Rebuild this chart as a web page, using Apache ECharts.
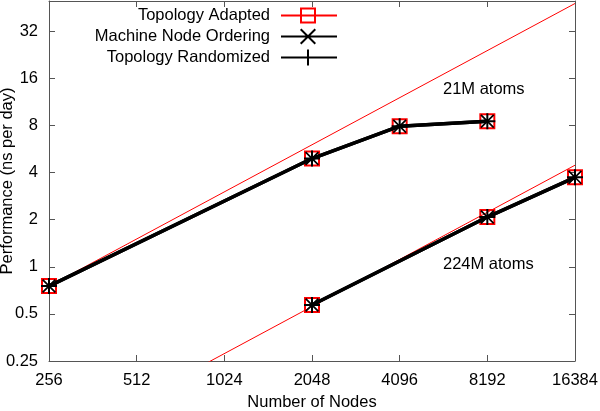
<!DOCTYPE html>
<html>
<head>
<meta charset="utf-8">
<script src="https://cdn.jsdelivr.net/npm/echarts@6/dist/echarts.min.js"></script>
<style>html,body{margin:0;padding:0;background:#fff}#c{width:600px;height:411px}</style>
</head>
<body>
<div id="c"></div>
<script>
// ---- data ----
var nodes21 = [256, 2048, 4096, 8192];
var adapted21 = [0.753, 4.92, 7.92, 8.52];
var machine21 = [0.753, 4.92, 7.92, 8.52];
var random21 = [0.753, 4.92, 7.92, 8.52];
var nodes224 = [2048, 8192, 16384];
var adapted224 = [0.57, 2.08, 3.73];
var machine224 = [0.57, 2.08, 3.73];
var random224 = [0.57, 2.08, 3.73];
var idealNodes = [256, 16384];
var ideal21 = [0.753, 48.2];
var ideal224 = [0.0697, 4.46];
var xTicks = [256, 512, 1024, 2048, 4096, 8192, 16384];
var yTicks = [0.25, 0.5, 1, 2, 4, 8, 16, 32];
var seriesNames = ['Topology Adapted', 'Machine Node Ordering', 'Topology Randomized'];
var annotations = ['21M atoms', '224M atoms'];

function pairs(xs, ys) { return xs.map(function (x, i) { return [x, ys[i]]; }); }

var FONT = '"Liberation Sans", Arial, Helvetica, sans-serif';
var FS = 16.5;
var frame = '#555';

var squareSym = 'path://M0 0H16V16H0Z M2 2V14H14V2Z';
var xSym = 'path://M0 1.4L1.4 0L16 14.6L14.6 16Z M14.6 0L16 1.4L1.4 16L0 14.6Z';
var plusSym = 'path://M7 0H9V16H7Z M0 7H16V9H0Z';

var iconSquare = 'path://M0 7H56V9H0Z M19 0H35V16H19Z M21 2V14H33V2Z';
var iconX = 'path://M0 7H56V9H0Z M19 1.4L20.4 0L35 14.6L33.6 16Z M33.6 0L35 1.4L20.4 16L19 14.6Z';
var iconPlus = 'path://M0 7H56V9H0Z M26 0H28V16H26Z';

function isTick(list, v) {
  for (var i = 0; i < list.length; i++) if (Math.abs(list[i] - v) / list[i] < 1e-6) return true;
  return false;
}

var chart = echarts.init(document.getElementById('c'), null, {renderer: 'canvas'});

function dataSeries(name, xs, ys, color, width, sym, symSize, z) {
  return {
    name: name, type: 'line', data: pairs(xs, ys), xAxisIndex: 0, yAxisIndex: 0,
    symbol: sym, symbolSize: symSize, showSymbol: true, showAllSymbol: true,
    lineStyle: {color: color, width: width},
    itemStyle: {color: color, borderWidth: 0},
    animation: false, z: z, silent: true
  };
}

var option = {
  animation: false,
  textStyle: {fontFamily: FONT},
  grid: {left: 49, right: 25, top: 1, bottom: 50, containLabel: false, outerBoundsMode: 'none'},
  legend: {
    orient: 'vertical', align: 'right', right: 258, top: 2,
    itemWidth: 56, itemHeight: 16, itemGap: 4,
    textStyle: {fontFamily: FONT, fontSize: FS, color: '#000', padding: [0, 6, 0, 0]},
    data: [
      {name: seriesNames[0], icon: iconSquare, itemStyle: {color: '#ff0000', borderWidth: 0}},
      {name: seriesNames[1], icon: iconX, itemStyle: {color: '#000', borderWidth: 0}},
      {name: seriesNames[2], icon: iconPlus, itemStyle: {color: '#000', borderWidth: 0}}
    ],
    selectedMode: false
  },
  xAxis: [{
    type: 'log', logBase: 2, min: 256, max: 16384, interval: 1,
    position: 'bottom',
    name: 'Number of Nodes', nameLocation: 'middle', nameGap: 33, nameMoveOverlap: false,
    nameTextStyle: {fontFamily: FONT, fontSize: FS, color: '#000'},
    axisLine: {show: true, lineStyle: {color: frame, width: 1}},
    axisTick: {show: true, inside: true, length: 6, lineStyle: {color: frame}},
    axisLabel: {fontFamily: FONT, fontSize: FS, color: '#000', margin: 11, hideOverlap: false,
      formatter: function (v) { return isTick(xTicks, v) ? String(Math.round(v)) : ''; }},
    splitLine: {show: false}
  }, {
    type: 'log', logBase: 2, min: 256, max: 16384, interval: 1,
    position: 'top',
    axisLine: {show: true, lineStyle: {color: frame, width: 1}},
    axisTick: {show: true, inside: true, length: 6, lineStyle: {color: frame}},
    axisLabel: {show: false},
    splitLine: {show: false}
  }],
  yAxis: [{
    type: 'log', logBase: 2, min: 0.25, max: 50, interval: 1,
    position: 'left',
    name: 'Performance (ns per day)', nameLocation: 'middle', nameGap: 33, nameMoveOverlap: false,
    nameTextStyle: {fontFamily: FONT, fontSize: FS, color: '#000'},
    axisLine: {show: true, lineStyle: {color: frame, width: 1}},
    axisTick: {show: true, inside: true, length: 6, lineStyle: {color: frame}},
    axisLabel: {fontFamily: FONT, fontSize: FS, color: '#000', margin: 11, showMaxLabel: false, hideOverlap: false,
      formatter: function (v) { return isTick(yTicks, v) ? String(Math.round(v * 100) / 100) : ''; }},
    splitLine: {show: false}
  }, {
    type: 'log', logBase: 2, min: 0.25, max: 50, interval: 1,
    position: 'right',
    axisLine: {show: true, lineStyle: {color: frame, width: 1}},
    axisTick: {show: true, inside: true, length: 6, lineStyle: {color: frame}},
    axisLabel: {show: false},
    splitLine: {show: false}
  }],
  series: [
    {name: 'ideal21', type: 'line', data: pairs(idealNodes, ideal21), symbol: 'none',
      lineStyle: {color: '#ff0000', width: 1}, clip: true, z: 1, silent: true},
    {name: 'ideal224', type: 'line', data: pairs(idealNodes, ideal224), symbol: 'none',
      lineStyle: {color: '#ff0000', width: 1}, clip: true, z: 1, silent: true},
    dataSeries(seriesNames[0], nodes21, adapted21, '#ff0000', 2, squareSym, 16, 2),
    dataSeries(seriesNames[0], nodes224, adapted224, '#ff0000', 2, squareSym, 16, 2),
    dataSeries(seriesNames[1], nodes21, machine21, '#000', 3.5, xSym, 14, 3),
    dataSeries(seriesNames[1], nodes224, machine224, '#000', 3.5, xSym, 14, 3),
    dataSeries(seriesNames[2], nodes21, random21, '#000', 3.5, plusSym, 16, 4),
    dataSeries(seriesNames[2], nodes224, random224, '#000', 3.5, plusSym, 16, 4)
  ],
  graphic: [
    {type: 'text', left: 443, top: 81, style: {text: annotations[0], font: FS + 'px ' + FONT, fill: '#000'}},
    {type: 'text', left: 443, top: 256, style: {text: annotations[1], font: FS + 'px ' + FONT, fill: '#000'}}
  ]
};
chart.setOption(option);
</script>
</body>
</html>
